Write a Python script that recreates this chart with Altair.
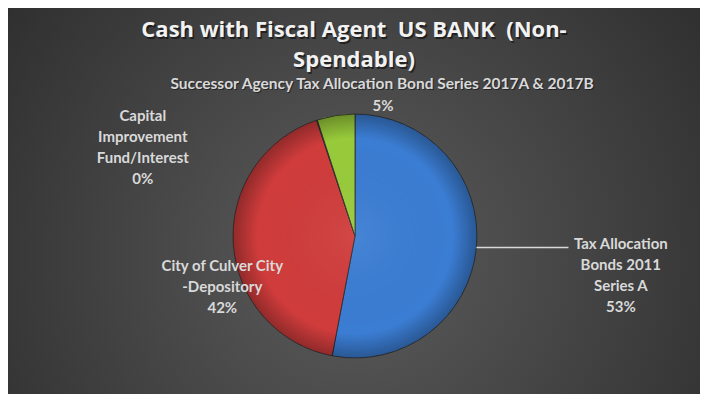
import altair as alt
import pandas as pd

# ---------------- data ----------------
categories = [
    "Tax Allocation Bonds 2011 Series A",
    "City of Culver City -Depository",
    "Capital Improvement Fund/Interest",
    "Successor Agency Tax Allocation Bond Series 2017A & 2017B",
]
values = [53.0, 41.9, 0.1, 5.0]
label_lines = [
    "Tax Allocation|Bonds 2011|Series A",
    "City of Culver City|-Depository",
    "Capital|Improvement|Fund/Interest",
    "Successor Agency Tax Allocation Bond Series 2017A & 2017B",
]
slice_order = [1, 2, 3, 4]
title_lines = ["Cash with Fiscal Agent \u00a0US BANK \u00a0(Non-", "Spendable)"]
colors = ["#3b7dd3", "#d03c3c", "#7f5fa8", "#98cb3b"]

# ---------------- layout ----------------
W, H = 692, 386
CX, CY, RP = 347, 228, 122
FONT = "Lato"
LABEL_COLOR = "#d9d9d9"

df = pd.DataFrame({"category": categories, "value": values,
                   "lines": label_lines, "order": slice_order})

base = (
    alt.Chart(df)
    .transform_joinaggregate(total="sum(value)")
    .transform_window(cum="sum(value)", sort=[alt.SortField("order")], frame=[None, 0])
    .transform_calculate(
        mid="2*PI*(datum.cum - datum.value/2)/datum.total",
        pct="format(datum.value/datum.total, '.0%')",
    )
)

bg = alt.Chart(alt.Data(values=[{}])).mark_rect(
    color=alt.RadialGradient(
        gradient="radial",
        stops=[alt.GradientStop(color="#5c5c5c", offset=0),
               alt.GradientStop(color="#262626", offset=1)],
        x1=0.5, y1=0.58, x2=0.5, y2=0.58, r1=0, r2=0.75,
    )
).encode(x=alt.value(0), x2=alt.value(W), y=alt.value(0), y2=alt.value(H))

pie = alt.Chart(df).mark_arc(outerRadius=RP, stroke="#2a2a2a", strokeWidth=0.8).encode(
    theta=alt.Theta("value:Q", stack=True),
    order=alt.Order("order:Q", sort="ascending"),
    color=alt.Color("category:N", scale=alt.Scale(domain=categories, range=colors), legend=None),
    x=alt.value(CX), y=alt.value(CY),
)

overlay = alt.Chart(alt.Data(values=[{}])).mark_arc(
    theta=0, theta2=6.2832, outerRadius=RP,
    color=alt.RadialGradient(
        gradient="radial",
        stops=[alt.GradientStop(color="rgba(255,255,255,0.06)", offset=0),
               alt.GradientStop(color="rgba(0,0,0,0)", offset=0.8),
               alt.GradientStop(color="rgba(0,0,0,0.30)", offset=1)],
        x1=0.5, y1=0.5, x2=0.5, y2=0.5, r1=0, r2=0.5,
    ),
).encode(x=alt.value(CX), y=alt.value(CY))

leader = (
    base.transform_filter(alt.datum.category == categories[0])
    .transform_calculate(ex=f"{CX} + {RP}*sin(datum.mid)",
                         ey=f"{CY} - {RP}*cos(datum.mid)")
    .transform_calculate(ex2="datum.ex + 92")
    .mark_rule(color=LABEL_COLOR, strokeWidth=1.3)
    .encode(x=alt.X("ex:Q", scale=None), x2="ex2:Q", y=alt.Y("ey:Q", scale=None))
)


def label(idx, R, dx, dy, text_expr, size, lh=21, shadow=False):
    lay = (
        base.transform_filter(alt.datum.category == categories[idx])
        .transform_calculate(lx=f"{CX} + {R}*sin(datum.mid)",
                             ly=f"{CY} - {R}*cos(datum.mid)",
                             txt=text_expr)
    )
    enc = dict(x=alt.X("lx:Q", scale=None), y=alt.Y("ly:Q", scale=None), text="txt:N")
    out = []
    if shadow:
        out.append(lay.mark_text(dx=dx + 1, dy=dy + 1, fontSize=size, font=FONT, fontWeight="bold",
                                 color="black", opacity=0.45, lineHeight=lh,
                                 align="center", baseline="middle").encode(**enc))
    out.append(lay.mark_text(dx=dx, dy=dy, fontSize=size, font=FONT, fontWeight="bold",
                             color=LABEL_COLOR, lineHeight=lh,
                             align="center", baseline="middle").encode(**enc))
    return out


full = "split(datum.lines + '|' + datum.pct, '|')"
labels = []
labels += label(0, 266, 1, -17, full, 15)
labels += label(1, 133, 0, 21, full, 15)
labels += label(2, 100, -181, -25, full, 15)
labels += label(3, 140, 49, -14, "datum.lines", 15.5, shadow=True)
labels += label(3, 140, 50, 8, "datum.pct", 15)

title_kw = dict(text=title_lines, font="Open Sans", fontWeight="bold", fontSize=22,
                lineHeight=30, align="center", baseline="middle")
title_shadow = alt.Chart(alt.Data(values=[{}])).mark_text(
    color="black", opacity=0.5, dx=1.5, dy=1.5, **title_kw
).encode(x=alt.value(346), y=alt.value(22))
title = alt.Chart(alt.Data(values=[{}])).mark_text(
    color="#f2f2f2", **title_kw
).encode(x=alt.value(346), y=alt.value(22))

chart = alt.layer(bg, pie, overlay, leader, *labels, title_shadow, title).properties(
    width=W, height=H, autosize="none", padding=0
).configure_view(stroke=None)

chart.save("out.html", embed_options={"renderer": "svg", "actions": False})
